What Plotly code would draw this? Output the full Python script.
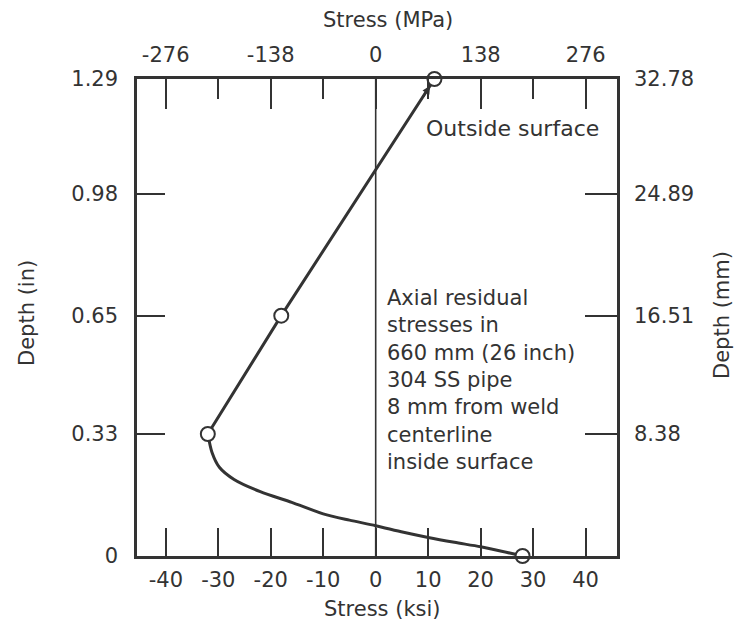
import plotly.graph_objects as go

# ---- data ----
stress_ksi = [11.2, -18.0, -32.0, -31.2, -29.8, -27.0, -22.0, -16.0, -10.0, -5.0, 0.0, 5.3, 10.0, 15.0, 20.0, 24.0, 28.0]
depth_in   = [1.29, 0.65, 0.33, 0.28, 0.24, 0.207, 0.174, 0.145, 0.114, 0.097, 0.082, 0.064, 0.050, 0.037, 0.025, 0.013, 0.0]

meas_stress_ksi = [11.2, -18.0, -32.0, 28.0]
meas_depth_in   = [1.29, 0.65, 0.33, 0.0]

ksi_ticks  = [-40, -30, -20, -10, 0, 10, 20, 30, 40]
mpa_major  = [-276, -138, 0, 138, 276]
mpa_minor  = [-207, -69, 69, 207]
depth_ticks_in = [0, 0.33, 0.65, 0.98, 1.29]
depth_labels_in = ["0", "0.33", "0.65", "0.98", "1.29"]
depth_ticks_mm_pos = [0.33, 0.65, 0.98, 1.29]
depth_labels_mm = ["8.38", "16.51", "24.89", "32.78"]

KSI_TO_MPA = 6.895
x_range = [-45.5, 46.0]
y_range = [0, 1.29]

INK = "#333333"
FONT = "DejaVu Sans"

fig = go.Figure()

# straight upper part
fig.add_trace(go.Scatter(x=stress_ksi[:3], y=depth_in[:3], mode="lines",
                         line=dict(color=INK, width=3), hoverinfo="skip",
                         showlegend=False, cliponaxis=False))
# smooth lower part
fig.add_trace(go.Scatter(x=stress_ksi[2:], y=depth_in[2:], mode="lines",
                         line=dict(color=INK, width=3, shape="spline", smoothing=0.8),
                         hoverinfo="skip", showlegend=False, cliponaxis=False))
# measured points
fig.add_trace(go.Scatter(x=meas_stress_ksi, y=meas_depth_in, mode="markers",
                         marker=dict(size=14, color="white", line=dict(color=INK, width=2)),
                         hoverinfo="skip", showlegend=False, cliponaxis=False))
# invisible trace to carry the MPa / mm axes
fig.add_trace(go.Scatter(x=[v * KSI_TO_MPA for v in meas_stress_ksi], y=meas_depth_in,
                         xaxis="x2", yaxis="y2", mode="markers",
                         marker=dict(size=1, opacity=0), hoverinfo="skip", showlegend=False))

# zero stress line
fig.add_shape(type="line", xref="x", yref="y", x0=0, x1=0, y0=y_range[0], y1=y_range[1],
              line=dict(color=INK, width=1.6), layer="below")

tickfont = dict(family=FONT, size=21, color=INK)

fig.update_layout(
    width=746, height=636,
    margin=dict(l=137, r=129, t=79, b=80),
    paper_bgcolor="white", plot_bgcolor="white",
    showlegend=False,
    xaxis=dict(range=x_range, tickvals=ksi_ticks,
               ticktext=[str(v) for v in ksi_ticks],
               ticks="inside", ticklen=28, tickwidth=2, tickcolor=INK,
               showline=True, linewidth=2.5, linecolor=INK, mirror=True,
               showgrid=False, zeroline=False, tickfont=tickfont,
               ticklabelstandoff=3),
    xaxis2=dict(range=[x_range[0] * KSI_TO_MPA, x_range[1] * KSI_TO_MPA],
                overlaying="x", side="top", anchor="y2",
                tickvals=mpa_major, ticktext=[str(v) for v in mpa_major],
                ticks="inside", ticklen=30, tickwidth=2, tickcolor=INK,
                minor=dict(tickvals=mpa_minor, ticks="inside", ticklen=20,
                           tickwidth=2, tickcolor=INK, showgrid=False),
                showline=False, showgrid=False, zeroline=False, tickfont=tickfont,
                ticklabelstandoff=12),
    yaxis=dict(range=y_range, tickvals=depth_ticks_in, ticktext=depth_labels_in,
               ticks="inside", ticklen=28, tickwidth=2, tickcolor=INK,
               showline=True, linewidth=2.5, linecolor=INK, mirror=True,
               showgrid=False, zeroline=False, tickfont=tickfont,
               ticklabelstandoff=12),
    yaxis2=dict(range=y_range, overlaying="y", side="right", anchor="x2",
                tickvals=depth_ticks_mm_pos, ticktext=depth_labels_mm,
                ticks="inside", ticklen=32, tickwidth=2, tickcolor=INK,
                showline=False, showgrid=False, zeroline=False, tickfont=tickfont,
                ticklabelstandoff=16),
)

titlefont = dict(family=FONT, size=21, color=INK)
annfont = dict(family=FONT, size=22, color=INK)

def px_x(px):
    return (px - 137) / 480.0

def px_y(py):
    return (556 - py) / 477.0

fig.add_annotation(text="Stress (MPa)", xref="paper", yref="paper", x=px_x(388), y=px_y(20),
                   showarrow=False, font=titlefont, xanchor="center", yanchor="middle")
fig.add_annotation(text="Stress (ksi)", xref="paper", yref="paper", x=px_x(382), y=px_y(609),
                   showarrow=False, font=titlefont, xanchor="center", yanchor="middle")
fig.add_annotation(text="Depth (in)", xref="paper", yref="paper", x=px_x(27), y=px_y(313),
                   showarrow=False, font=titlefont, textangle=-90,
                   xanchor="center", yanchor="middle")
fig.add_annotation(text="Depth (mm)", xref="paper", yref="paper", x=px_x(722), y=px_y(315),
                   showarrow=False, font=titlefont, textangle=-90,
                   xanchor="center", yanchor="middle")

fig.add_annotation(text="Outside surface", xref="paper", yref="paper", x=px_x(512), y=px_y(128),
                   showarrow=False, font=annfont, xanchor="center", yanchor="middle")
fig.add_annotation(text="Axial residual<br>stresses in<br>660 mm (26 inch)<br>304 SS pipe<br>"
                        "8 mm from weld<br>centerline<br>inside surface",
                   xref="paper", yref="paper", x=px_x(385), y=px_y(284),
                   showarrow=False, font=dict(family=FONT, size=21, color=INK),
                   align="left", xanchor="left", yanchor="top")

# small arrowhead pointing at the outside-surface point
fig.add_annotation(x=meas_stress_ksi[0], y=meas_depth_in[0], xref="x", yref="y",
                   text="", showarrow=True, ax=-12, ay=19, arrowhead=2, arrowsize=0.8,
                   arrowwidth=2, arrowcolor=INK, standoff=8)

fig.write_html("out.html")
